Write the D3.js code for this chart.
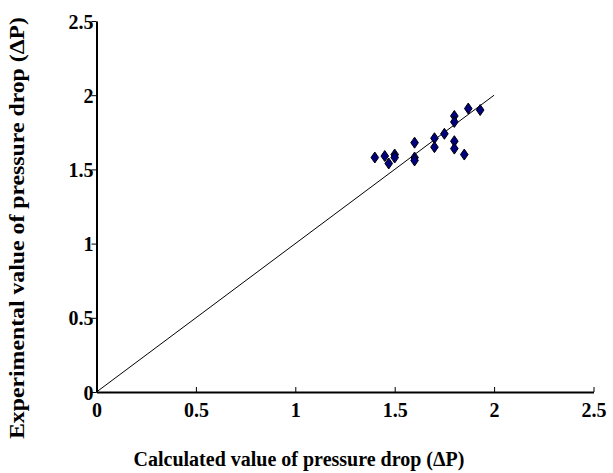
<!DOCTYPE html>
<html>
<head>
<meta charset="utf-8">
<script src="https://cdn.jsdelivr.net/npm/d3@7"></script>
<style>
  body { margin: 0; background: #fff; }
  text { font-family: "Liberation Serif", "Times New Roman", serif; font-weight: bold; }
</style>
</head>
<body>
<script>
const width = 613;
const height = 473;

// calculated vs experimental pressure drop
const calculated = [1.40, 1.45, 1.47, 1.50, 1.50, 1.60, 1.60, 1.60, 1.70, 1.70, 1.75, 1.80, 1.80, 1.80, 1.80, 1.85, 1.87, 1.93];
const experimental = [1.58, 1.59, 1.54, 1.60, 1.58, 1.68, 1.58, 1.56, 1.71, 1.65, 1.74, 1.86, 1.82, 1.69, 1.64, 1.60, 1.91, 1.90];
const lineX = [0, 2];
const lineY = [0, 2];
const xTicks = [0, 0.5, 1, 1.5, 2, 2.5];
const yTicks = [0, 0.5, 1, 1.5, 2, 2.5];

const points = calculated.map(function (d, i) { return { x: d, y: experimental[i] }; });

const svg = d3.select("body").append("svg")
    .attr("width", width)
    .attr("height", height);

const x = d3.scaleLinear().domain([0, 2.5]).range([96.5, 593.5]);
const y = d3.scaleLinear().domain([0, 2.5]).range([392, 21]);

const xAxis = svg.append("g")
    .attr("transform", "translate(0," + y(0) + ")")
    .call(d3.axisBottom(x).tickValues(xTicks).tickFormat(d3.format("")).tickSize(5).tickSizeOuter(0));

const yAxis = svg.append("g")
    .attr("transform", "translate(" + x(0) + ",0)")
    .call(d3.axisLeft(y).tickValues(yTicks).tickFormat(d3.format("")).tickSize(5).tickSizeOuter(0));

[xAxis, yAxis].forEach(function (g) {
    g.select(".domain").attr("stroke", "#000").attr("stroke-width", 2);
    g.selectAll(".tick line").attr("stroke", "#000").attr("stroke-width", 1);
    g.selectAll(".tick text")
        .attr("fill", "#000")
        .style("font-size", "20px");
});
xAxis.selectAll(".tick line").attr("y1", 0).attr("y2", -5);
xAxis.selectAll(".tick text").attr("y", 11).attr("dy", "0.71em");
yAxis.selectAll(".tick text").attr("x", -3).attr("dy", "0.35em");

// 1:1 line
const line = d3.line()
    .x(function (d, i) { return x(lineX[i]); })
    .y(function (d, i) { return y(lineY[i]); });

svg.append("path")
    .datum(lineX)
    .attr("d", line)
    .attr("fill", "none")
    .attr("stroke", "#000")
    .attr("stroke-width", 1);

svg.append("g")
    .selectAll("path")
    .data(points)
    .enter().append("path")
    .attr("d", "M0,-5.5L3.8,0L0,5.5L-3.8,0Z")
    .attr("transform", function (d) { return "translate(" + x(d.x) + "," + y(d.y) + ")"; })
    .attr("fill", "#000080")
    .attr("stroke", "#000")
    .attr("stroke-width", 1);

svg.append("text")
    .attr("x", 299)
    .attr("y", 466)
    .attr("text-anchor", "middle")
    .style("font-size", "20px")
    .text("Calculated value of pressure drop (ΔP)");

svg.append("text")
    .attr("transform", "translate(24,228) rotate(-90)")
    .attr("text-anchor", "middle")
    .attr("textLength", 422)
    .attr("lengthAdjust", "spacingAndGlyphs")
    .style("font-size", "21px")
    .text("Experimental value of pressure drop (ΔP)");
</script>
</body>
</html>
